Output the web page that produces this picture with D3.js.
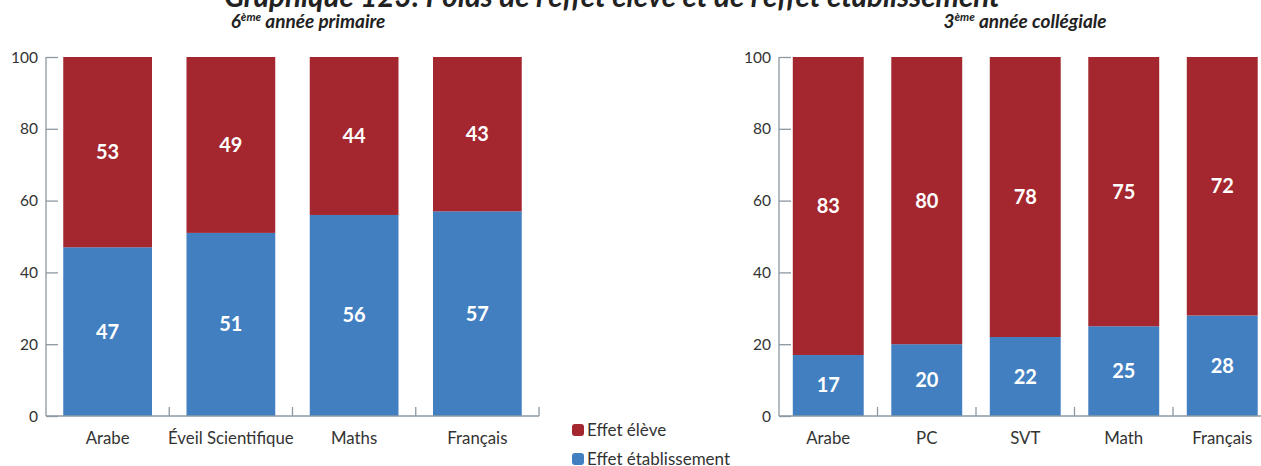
<!DOCTYPE html>
<html><head><meta charset="utf-8">
<script src="https://cdn.jsdelivr.net/npm/d3@7"></script>
<style>body{margin:0;background:#fff;} svg{display:block;font-family:Lato,"Open Sans",sans-serif;}</style>
</head><body>
<svg id="c" width="1261" height="466"></svg>
<script>
const title = "Graphique 123: Poids de l'effet élève et de l'effet établissement";
const leftCategories = ["Arabe", "Éveil Scientifique", "Maths", "Français"];
const leftEtab = [47, 51, 56, 57];
const leftEleve = [53, 49, 44, 43];
const rightCategories = ["Arabe", "PC", "SVT", "Math", "Français"];
const rightEtab = [17, 20, 22, 25, 28];
const rightEleve = [83, 80, 78, 75, 72];
const yTicks = [0, 20, 40, 60, 80, 100];
const seriesNames = ["Effet élève", "Effet établissement"];
const colors = {eleve: "#a4262e", etab: "#427fc1"};

const svg = d3.select("#c");
const y = d3.scaleLinear().domain([0, 100]).range([416, 57]);
const axisColor = "#8c98a2";
const textColor = "#333";

svg.append("text").attr("x", 612).attr("y", 7).attr("text-anchor", "middle")
  .attr("font-size", 29.5).attr("font-weight", "bold").attr("font-style", "italic")
  .attr("fill", "#222").text(title);

function panel(cats, etab, eleve, x0, x1, subtitleSup, subtitleRest, subX) {
  const x = d3.scaleBand().domain(cats).range([x0, x1]).paddingInner(0.28).paddingOuter(0.14);
  const g = svg.append("g");
  const st = g.append("text").attr("x", subX).attr("y", 28).attr("text-anchor", "middle")
    .attr("font-size", 19).attr("font-weight", "bold").attr("font-style", "italic").attr("fill", "#222");
  st.append("tspan").text(subtitleSup[0]);
  st.append("tspan").attr("font-size", 11.5).attr("dy", -7).text(subtitleSup[1]);
  st.append("tspan").attr("dy", 7).text(subtitleRest);
  cats.forEach((c, i) => {
    g.append("rect").attr("x", x(c)).attr("width", x.bandwidth())
      .attr("y", y(etab[i])).attr("height", y(0) - y(etab[i])).attr("fill", colors.etab);
    g.append("rect").attr("x", x(c)).attr("width", x.bandwidth())
      .attr("y", y(etab[i] + eleve[i])).attr("height", y(etab[i]) - y(etab[i] + eleve[i])).attr("fill", colors.eleve);
    g.append("text").attr("x", x(c) + x.bandwidth() / 2).attr("y", y(etab[i] / 2) + 7)
      .attr("text-anchor", "middle").attr("font-size", 20).attr("font-weight", "bold").attr("fill", "#fff").text(etab[i]);
    g.append("text").attr("x", x(c) + x.bandwidth() / 2).attr("y", y(etab[i] + eleve[i] / 2) + 7)
      .attr("text-anchor", "middle").attr("font-size", 20).attr("font-weight", "bold").attr("fill", "#fff").text(eleve[i]);
  });
  const ya = g.append("g").attr("transform", `translate(${x0},0)`)
    .call(d3.axisRight(y).tickValues(yTicks).tickSize(12).tickFormat(""));
  ya.select(".domain").attr("stroke", axisColor).attr("stroke-width", 1.3).attr("d", `M0,${y(100)}V${y(0)}`);
  ya.selectAll(".tick line").attr("stroke", axisColor).attr("stroke-width", 1.3);
  yTicks.forEach(t => {
    g.append("text").attr("x", x0 - 8).attr("y", y(t) + 5.5).attr("text-anchor", "end")
      .attr("font-size", 15.5).attr("fill", textColor).text(t);
  });
  const step = x.step();
  const bounds = d3.range(1, cats.length + 1).map(i => x0 + i * step);
  g.append("line").attr("x1", x0).attr("x2", Math.min(x1, 1261)).attr("y1", y(0)).attr("y2", y(0))
    .attr("stroke", axisColor).attr("stroke-width", 1.3);
  bounds.forEach(b => {
    g.append("line").attr("x1", b).attr("x2", b).attr("y1", y(0)).attr("y2", y(0) - 9)
      .attr("stroke", axisColor).attr("stroke-width", 1.3);
  });
  cats.forEach(c => {
    g.append("text").attr("x", x(c) + x.bandwidth() / 2).attr("y", 444).attr("text-anchor", "middle")
      .attr("font-size", 16.8).attr("fill", textColor).text(c);
  });
}

panel(leftCategories, leftEtab, leftEleve, 46, 539, ["6", "ème"], " année primaire", 308);
panel(rightCategories, rightEtab, rightEleve, 779, 1271.5, ["3", "ème"], " année collégiale", 1025);

const leg = svg.append("g");
[[seriesNames[0], colors.eleve, 430], [seriesNames[1], colors.etab, 459]].forEach(([n, col, yy]) => {
  leg.append("rect").attr("x", 572).attr("y", yy - 6).attr("width", 12).attr("height", 12).attr("rx", 3).attr("fill", col);
  leg.append("text").attr("x", 587).attr("y", yy + 6).attr("font-size", 17).attr("fill", textColor).text(n);
});
</script>
</body></html>
